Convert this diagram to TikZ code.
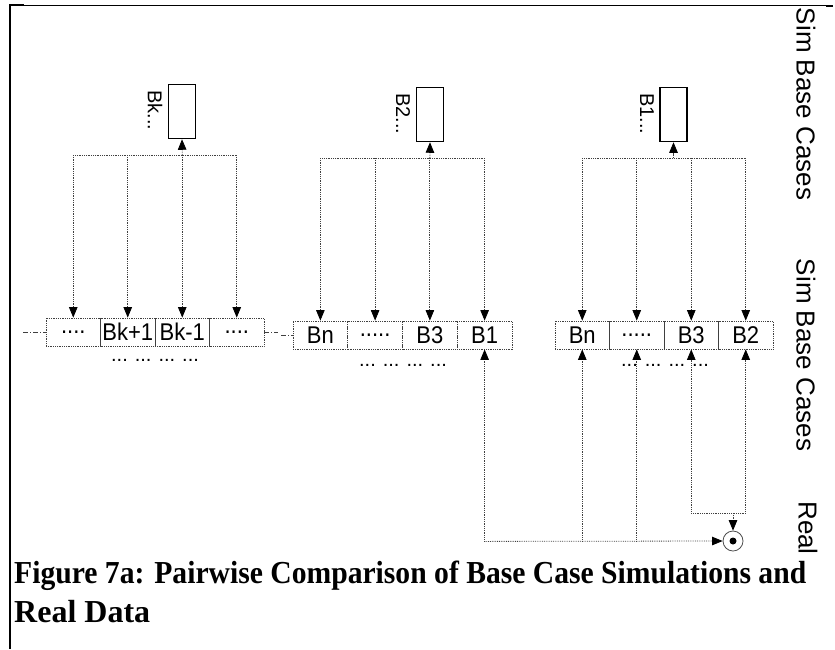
\documentclass[tikz,border=0pt]{standalone}
\usepackage{fontspec}
\setmainfont{Liberation Serif}
\newfontfamily\arialf{Liberation Sans}
\usepackage{graphicx}
\usetikzlibrary{arrows.meta}
\newcommand{\tallcell}[1]{\scalebox{1}[1.1]{#1}}
\begin{document}
\begin{tikzpicture}[x=1pt,y=-1pt,
  conn/.style={densely dotted, line width=0.8pt, draw=black!75},
  tip/.style={-{Triangle[length=10.5pt,width=8.5pt,color=black]}},
  cell/.style={draw=black!75, densely dotted, line width=0.8pt, minimum width=54.5pt, minimum height=28pt, inner sep=0pt, font=\arialf\fontsize{22}{22}\selectfont},
  simbox/.style={draw, line width=1.5pt, minimum width=27pt, minimum height=54pt, inner sep=0pt},
  boxlbl/.style={rotate=-90, anchor=west, inner sep=0pt, font=\arialf\fontsize{20}{20}\selectfont},
  sidelbl/.style={rotate=-90, inner sep=0pt, font=\arialf\fontsize{26}{26}\selectfont},
  dotrow/.style={font=\arialf\fontsize{20}{20}\selectfont, inner sep=0pt},
  dashdot/.style={dash pattern=on 5pt off 2pt on 1pt off 2pt, line width=0.8pt, draw=black!75},
  capt/.style={anchor=base west, inner sep=0pt, font=\bfseries\fontsize{32}{32}\selectfont}
]
\useasboundingbox (0,0) rectangle (835,649);

% frame
\draw[line width=2pt] (10,4) -- (10,649);
\draw[line width=1pt] (10,5) -- (831,5);
\draw[line width=2pt] (10,5) -- (24,5);
\draw[line width=2pt] (826,5.5) -- (833,5.5);

% ---------- group 1 ----------
\node[simbox] (bk) at (182,111.5) {};
\node[boxlbl] (bkl) at (155,90) {Bk...};
\foreach \i/\t in {1/{....},2/{Bk+1},3/{Bk-1},4/{....}} {
  \node[cell] (a\i) at ({46+54.5*(\i-0.5)},332) {\tallcell{\t}};
  \coordinate (ah\i) at ({46+54.5*(\i-0.5)},155);
  \draw[conn,tip] (ah\i) -- (a\i.north);
}
\draw[conn] (ah1) -- (ah4);
\draw[conn,tip] (ah3) -- (bk.south);
\node[dotrow] (adots) at (155,360) {...\hspace{7pt}...\hspace{7pt}...\hspace{7pt}...};
\coordinate (al) at (23,332);
\coordinate (ar) at (278,332);
\draw[dashdot] (al) -- (a1.west);
\draw[dashdot] (a4.east) -- (ar);

% ---------- group 2 ----------
\node[simbox] (b2box) at (430,114.5) {};
\node[boxlbl] (b2l) at (403,93) {B2...};
\foreach \i/\t in {1/{Bn},2/{.....},3/{B3},4/{B1}} {
  \node[cell, minimum width=54.75pt] (b\i) at ({293+54.75*(\i-0.5)},335) {\tallcell{\t}};
  \coordinate (bh\i) at ({293+54.75*(\i-0.5)},158);
  \draw[conn,tip] (bh\i) -- (b\i.north);
}
\draw[conn] (bh1) -- (bh4);
\draw[conn,tip] (bh3) -- (b2box.south);
\node[dotrow] (bdots) at (403,365) {...\hspace{7pt}...\hspace{7pt}...\hspace{7pt}...};
\coordinate (bl) at (281,335);
\draw[dashdot] (bl) -- (b1.west);

% ---------- group 3 ----------
\node[simbox] (b1box) at (673.5,114.5) {};
\node[boxlbl] (b1l) at (647,93) {B1...};
\foreach \i/\t in {1/{Bn},2/{.....},3/{B3},4/{B2}} {
  \node[cell] (c\i) at ({555+54.5*(\i-0.5)},335) {\tallcell{\t}};
  \coordinate (ch\i) at ({555+54.5*(\i-0.5)},158);
  \draw[conn,tip] (ch\i) -- (c\i.north);
}
\draw[conn] (ch1) -- (ch4);
\coordinate (ctop) at (673.5,158);
\draw[conn,tip] (ctop) -- (b1box.south);
\node[dotrow] (cdots) at (665,365) {...\hspace{7pt}...\hspace{7pt}...\hspace{7pt}...};

% ---------- real data ----------
\node[circle, draw=black!70, line width=0.8pt, minimum size=20pt, inner sep=0pt] (real) at (733,541) {};
\node[circle, fill=black, minimum size=7pt, inner sep=0pt] (realdot) at (real.center) {};
\path (b4.south) ++(0,192) coordinate (m4b);
\path (c1.south) ++(0,192) coordinate (c1b);
\path (c2.south) ++(0,192) coordinate (c2b);
\path (c3.south) ++(0,164) coordinate (c3b);
\path (c4.south) ++(0,164) coordinate (c4b);
\coordinate (loopm) at (733,513);
\draw[conn,tip] (m4b) -- (b4.south);
\draw[conn,tip] (c1b) -- (c1.south);
\draw[conn,tip] (c2b) -- (c2.south);
\draw[conn,tip] (c3b) -- (c3.south);
\draw[conn,tip] (c4b) -- (c4.south);
\draw[conn,tip] (m4b) -- (real.west);
\draw[conn] (c3b) -- (c4b);
\draw[conn,tip] (loopm) -- (real.north);

% ---------- side labels ----------
\node[sidelbl] (s1) at (806,104) {Sim Base Cases};
\node[sidelbl] (s2) at (806,355) {Sim Base Cases};
\node[sidelbl] (s3) at (808,528) {Real};

% ---------- caption ----------
\node[capt] (cap1) at (14,583) {\resizebox{792pt}{\height}{Figure 7a: Pairwise Comparison of Base Case Simulations and}};
\node[capt] (cap2) at (14,622) {Real Data};
\end{tikzpicture}
\end{document}
